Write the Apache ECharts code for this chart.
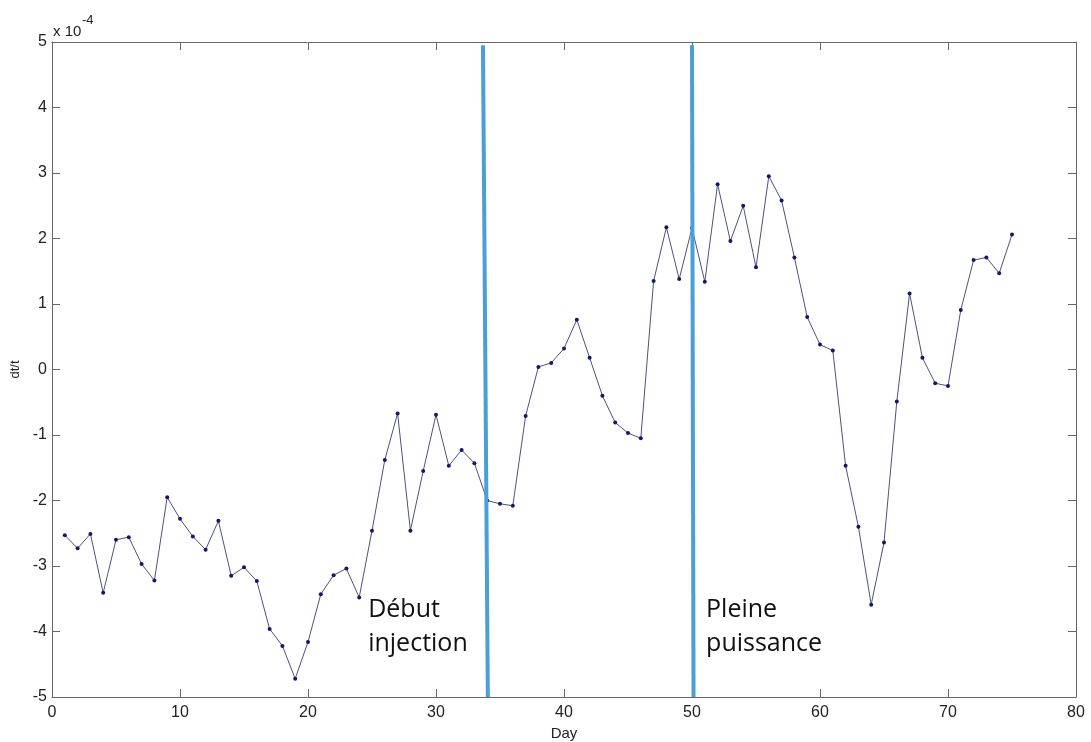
<!DOCTYPE html>
<html>
<head>
<meta charset="utf-8">
<script src="https://cdn.jsdelivr.net/npm/echarts@6/dist/echarts.min.js"></script>
<style>
html,body{margin:0;padding:0;background:#fff;}
#c{width:1091px;height:742px;}
</style>
</head>
<body>
<div id="c"></div>
<script>
const days = [1,2,3,4,5,6,7,8,9,10,11,12,13,14,15,16,17,18,19,20,21,22,23,24,25,26,27,28,29,30,31,32,33,34,35,36,37,38,39,40,41,42,43,44,45,46,47,48,49,50,51,52,53,54,55,56,57,58,59,60,61,62,63,64,65,66,67,68,69,70,71,72,73,74,75];
const dtValues = [-2.53,-2.73,-2.51,-3.41,-2.60,-2.56,-2.97,-3.22,-1.95,-2.28,
  -2.55,-2.75,-2.31,-3.15,-3.02,-3.23,-3.96,-4.22,-4.72,-4.16,
  -3.43,-3.14,-3.04,-3.48,-2.46,-1.38,-0.67,-2.46,-1.55,-0.69,
  -1.47,-1.23,-1.43,-2.00,-2.05,-2.08,-0.71,0.04,0.10,0.32,
  0.76,0.18,-0.40,-0.81,-0.97,-1.05,1.35,2.17,1.38,2.16,
  1.34,2.83,1.96,2.50,1.56,2.95,2.58,1.71,0.80,0.38,
  0.29,-1.47,-2.40,-3.59,-2.64,-0.49,1.16,0.18,-0.21,-0.25,
  0.91,1.67,1.71,1.47,2.06];
const xTicks = [0,10,20,30,40,50,60,70,80];
const yTicks = [-5,-4,-3,-2,-1,0,1,2,3,4,5];
const eventLines = [
  {name:'Début injection', from:[33.67,4.95], to:[34.05,-5]},
  {name:'Pleine puissance', from:[50.0,4.95], to:[50.12,-5]}
];
const annotations = [
  {lines:['Début','injection'], at:[24.7,-3.63]},
  {lines:['Pleine','puissance'], at:[51.1,-3.63]}
];

const chart = echarts.init(document.getElementById('c'));
const axisFont = {fontFamily:'Liberation Sans', fontSize:16, color:'#222'};
const lineStyleAxis = {color:'#666', width:1};
chart.setOption({
  animation:false,
  backgroundColor:'#fff',
  grid:{left:52, right:15, top:42, bottom:45, outerBoundsMode:'none', containLabel:false},
  xAxis:[{
    type:'value', min:0, max:80, interval:10, position:'bottom',
    name:'Day', nameLocation:'middle', nameGap:28,
    nameTextStyle:{fontFamily:'Liberation Sans', fontSize:15, color:'#222'},
    axisLine:{show:true, onZero:false, lineStyle:lineStyleAxis},
    axisTick:{show:true, inside:true, length:8, lineStyle:lineStyleAxis},
    axisLabel:Object.assign({margin:8}, axisFont),
    splitLine:{show:false}
  },{
    type:'value', min:0, max:80, interval:10, position:'top',
    axisLine:{show:true, onZero:false, lineStyle:lineStyleAxis},
    axisTick:{show:true, inside:true, length:8, lineStyle:lineStyleAxis},
    axisLabel:{show:false}, splitLine:{show:false}
  }],
  yAxis:[{
    type:'value', min:-5, max:5, interval:1, position:'left',
    name:'dt/t', nameLocation:'middle', nameGap:30, nameRotate:90,
    nameTextStyle:{fontFamily:'Liberation Sans', fontSize:13, color:'#222'},
    axisLine:{show:true, onZero:false, lineStyle:lineStyleAxis},
    axisTick:{show:true, inside:true, length:8, lineStyle:lineStyleAxis},
    axisLabel:Object.assign({margin:5}, axisFont),
    splitLine:{show:false}
  },{
    type:'value', min:-5, max:5, interval:1, position:'right',
    axisLine:{show:true, onZero:false, lineStyle:lineStyleAxis},
    axisTick:{show:true, inside:true, length:8, lineStyle:lineStyleAxis},
    axisLabel:{show:false}, splitLine:{show:false}
  }],
  series:[{
    type:'line',
    data:days.map((d,i)=>[d, dtValues[i]]),
    symbol:'circle', symbolSize:4,
    itemStyle:{color:'#16166a'},
    lineStyle:{color:'#50507e', width:1},
    z:3,
    markLine:{
      silent:true, symbol:'none',
      lineStyle:{color:'#4a9fd6', width:4, type:'solid'},
      label:{show:false},
      data:eventLines.map(e=>[{coord:e.from},{coord:e.to}])
    }
  }]
});

function placeGraphics(){
  const els = [];
  annotations.forEach(a=>{
    const p = chart.convertToPixel({gridIndex:0}, a.at);
    els.push({type:'text', left:p[0], top:p[1]-14, style:{
      text:a.lines.join('\n'), font:'25px "Open Sans"', fill:'#111', lineHeight:34
    }});
  });
  const top = chart.convertToPixel({gridIndex:0}, [0,5]);
  els.push({type:'text', left:top[0]+1, top:top[1]-18, style:{
    text:'x 10', font:'15px "Liberation Sans"', fill:'#222'}});
  els.push({type:'text', left:top[0]+30, top:top[1]-28, style:{
    text:'-4', font:'13px "Liberation Sans"', fill:'#222'}});
  chart.setOption({graphic:els});
}
placeGraphics();
</script>
</body>
</html>
